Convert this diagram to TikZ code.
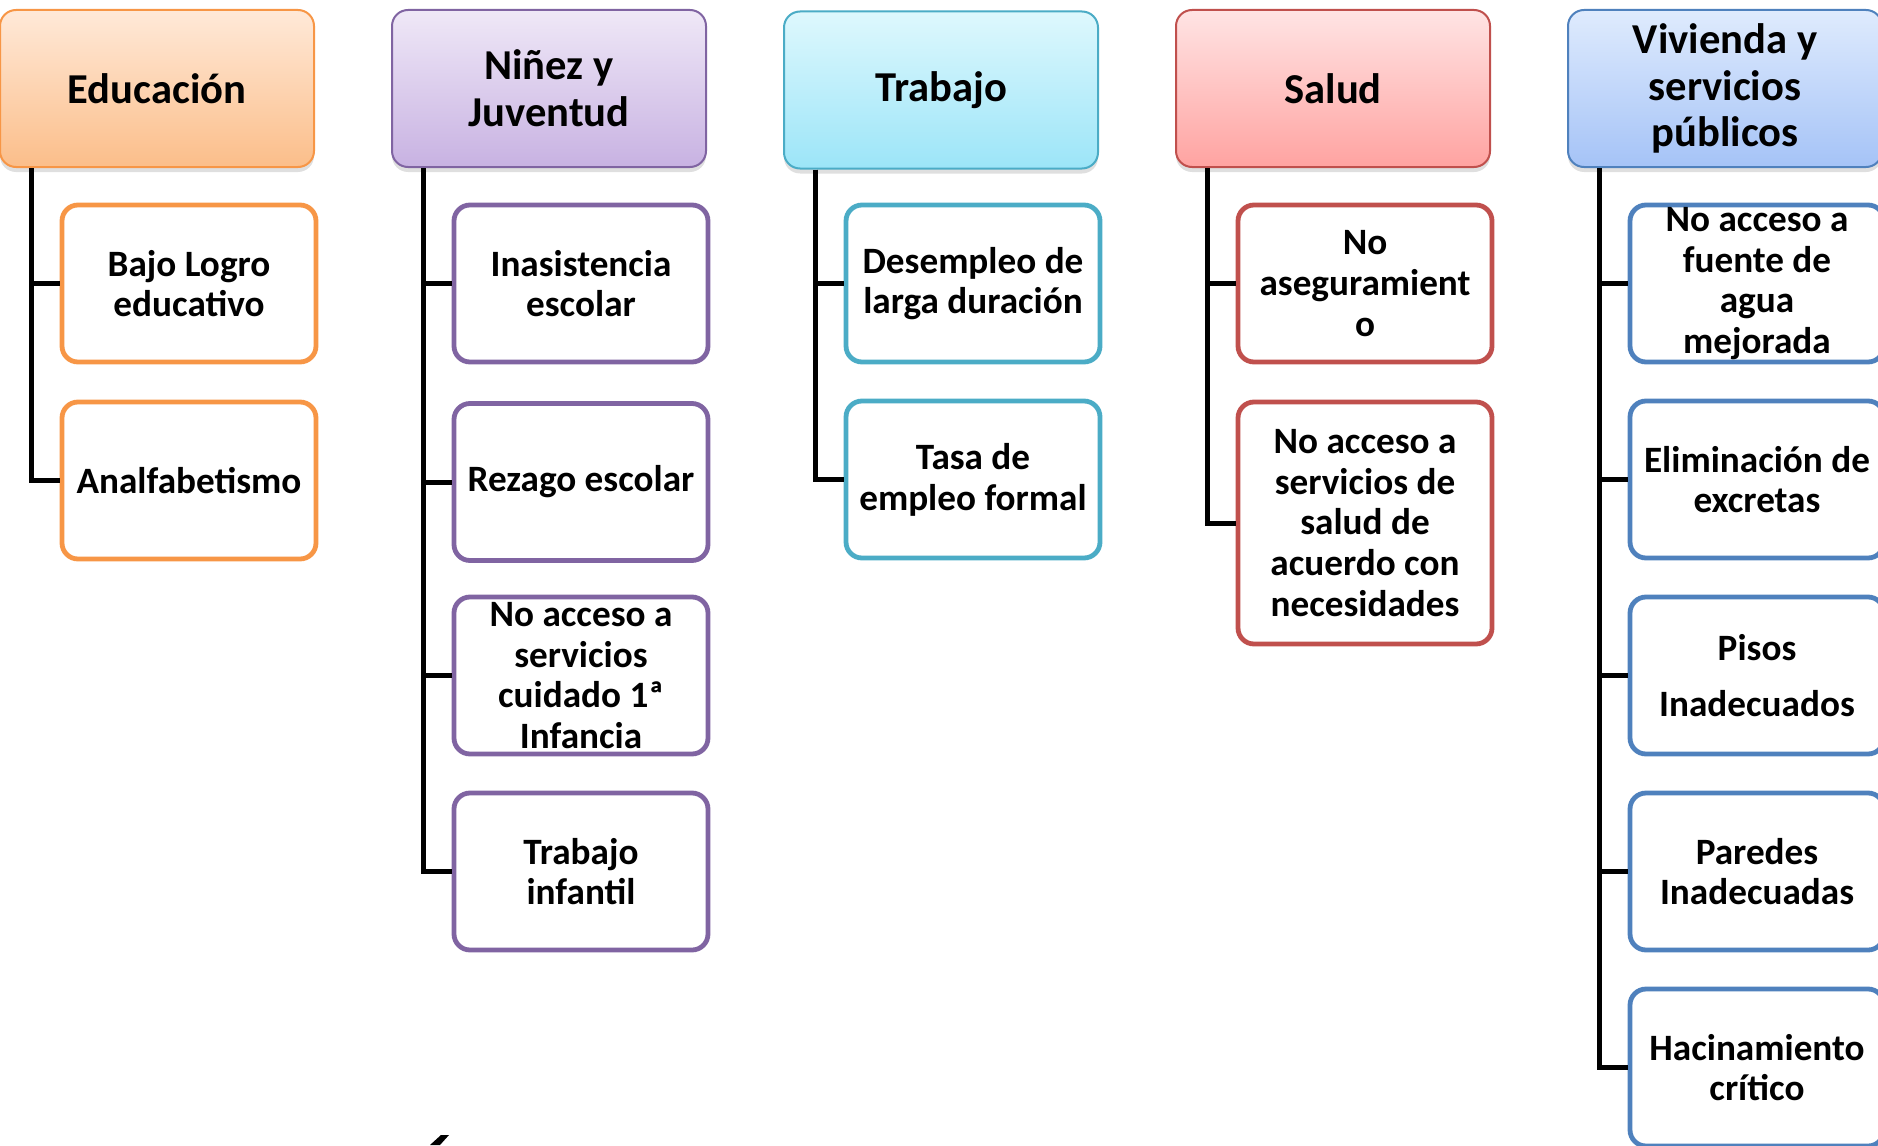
\documentclass[tikz,border=0pt]{standalone}
\usepackage{fontspec}
\setmainfont{Carlito}
\usetikzlibrary{shadows}

\definecolor{eduLine}{HTML}{F79646}
\definecolor{eduTop}{HTML}{FFE9D8}
\definecolor{eduBot}{HTML}{FBBE8A}
\definecolor{ninLine}{HTML}{8064A2}
\definecolor{ninTop}{HTML}{EFE8F7}
\definecolor{ninBot}{HTML}{C8B2E2}
\definecolor{traLine}{HTML}{4BACC6}
\definecolor{traTop}{HTML}{DEF8FD}
\definecolor{traBot}{HTML}{9CE5F8}
\definecolor{salLine}{HTML}{C0504D}
\definecolor{salTop}{HTML}{FFE4E4}
\definecolor{salBot}{HTML}{FFA3A1}
\definecolor{vivLine}{HTML}{4F81BD}
\definecolor{vivTop}{HTML}{DFEBFD}
\definecolor{vivBot}{HTML}{A5C3F7}

\def\spine{16pt}

\begin{document}
\begin{tikzpicture}[x=0.5pt, y=-0.5pt,
  head/.style={rectangle, rounded corners=8pt, line width=1pt, shading=axis,
    minimum width=157pt, minimum height=78.5pt, inner sep=0pt, align=center,
    drop shadow={opacity=0.25, shadow xshift=0pt, shadow yshift=-2.5pt},
    font=\bfseries\fontsize{21.3}{23.4}\selectfont},
  item/.style={rectangle, rounded corners=8pt, line width=2.4pt, fill=white,
    minimum width=127pt, minimum height=78.5pt, inner xsep=0pt, inner ysep=-1.5pt,
    align=center, font=\bfseries\fontsize{18.6}{20.4}\selectfont},
  branch/.style={line width=2.5pt}]
  \useasboundingbox (0,0) rectangle (1878,1145);

  % headers
  \node[head, draw=eduLine, top color=eduTop, bottom color=eduBot] (edu) at (157,88.5) {Educación};
  \node[head, draw=ninLine, top color=ninTop, bottom color=ninBot] (nin) at (549,88.5) {Niñez y\\Juventud};
  \node[head, draw=traLine, top color=traTop, bottom color=traBot] (tra) at (941,90) {Trabajo};
  \node[head, draw=salLine, top color=salTop, bottom color=salBot] (sal) at (1333,88.5) {Salud};
  \node[head, draw=vivLine, top color=vivTop, bottom color=vivBot] (viv) at (1725,88.5) {Vivienda y\\servicios\\públicos};

  % Educacion
  \node[item, draw=eduLine] (edu1) at (189,283.5) {Bajo Logro\\educativo};
  \node[item, draw=eduLine] (edu2) at (189,480.5) {Analfabetismo};
  % Ninez y Juventud
  \node[item, draw=ninLine] (nin1) at (581,283.5) {Inasistencia\\escolar};
  \node[item, draw=ninLine] (nin2) at (581,482) {Rezago escolar};
  \node[item, draw=ninLine] (nin3) at (581,675.5) {No acceso a\\servicios\\cuidado 1ª\\Infancia};
  \node[item, draw=ninLine] (nin4) at (581,871.5) {Trabajo\\infantil};
  % Trabajo
  \node[item, draw=traLine] (tra1) at (973,283.5) {Desempleo de\\larga duración};
  \node[item, draw=traLine] (tra2) at (973,479.5) {Tasa de\\empleo formal};
  % Salud
  \node[item, draw=salLine] (sal1) at (1365,283.5) {No\\aseguramient\\o};
  \node[item, draw=salLine, minimum height=121pt] (sal2) at (1365,523) {No acceso a\\servicios de\\salud de\\acuerdo con\\necesidades};
  % Vivienda
  \node[item, draw=vivLine] (viv1) at (1757,283.5) {No acceso a\\fuente de\\agua\\mejorada};
  \node[item, draw=vivLine] (viv2) at (1757,479.5) {Eliminación de\\excretas};
  \node[item, draw=vivLine] (viv3) at (1757,675.5) {Pisos\\[8pt]Inadecuados};
  \node[item, draw=vivLine] (viv4) at (1757,871.5) {Paredes\\Inadecuadas};
  \node[item, draw=vivLine] (viv5) at (1757,1067.5) {Hacinamiento\\crítico};

  % connectors
  \foreach \p/\c in {edu/edu1, edu/edu2, nin/nin1, nin/nin2, nin/nin3, nin/nin4,
      tra/tra1, tra/tra2, sal/sal1, sal/sal2,
      viv/viv1, viv/viv2, viv/viv3, viv/viv4, viv/viv5} {
    \draw[branch] ([xshift=\spine]\p.south west) |- (\c.west);
  }

  % cut-off accent at the bottom edge
  \fill (430,1145) -- (441,1135) -- (449,1135) -- (440,1145) -- cycle;
\end{tikzpicture}
\end{document}
